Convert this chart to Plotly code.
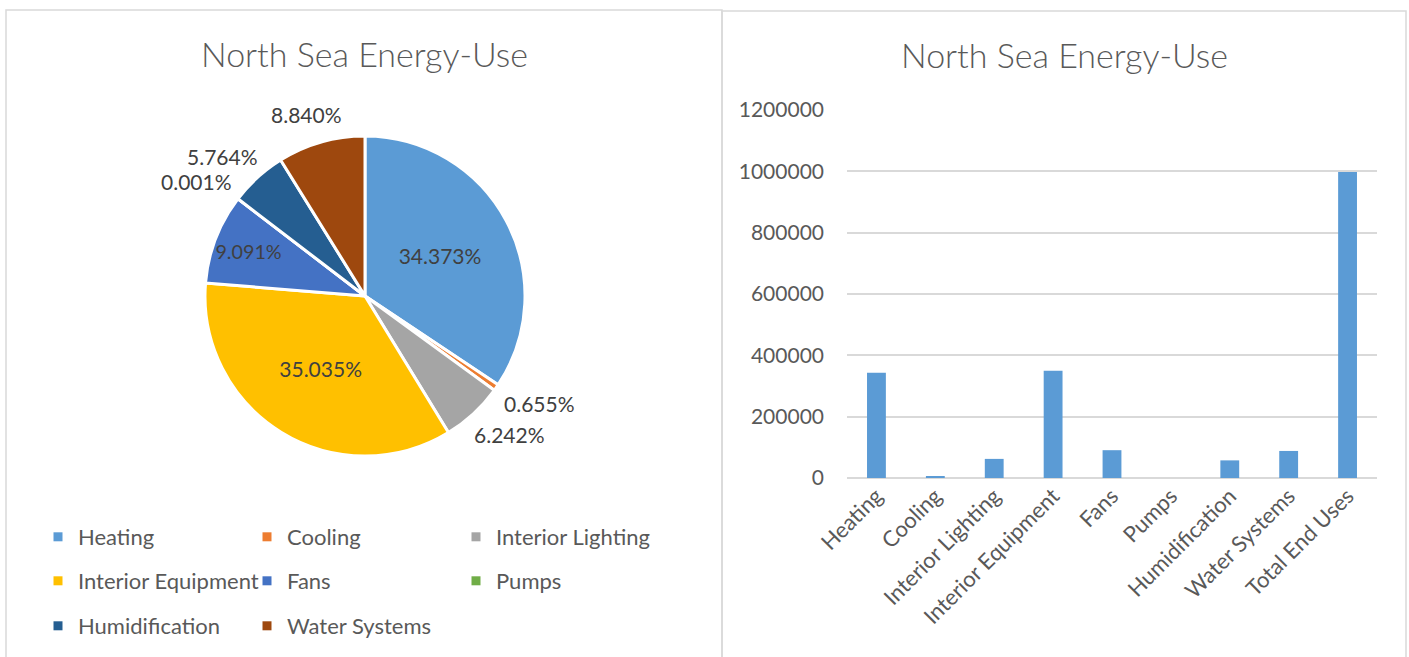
import math
import plotly.graph_objects as go

# ---- data ----
categories = ["Heating", "Cooling", "Interior Lighting", "Interior Equipment",
              "Fans", "Pumps", "Humidification", "Water Systems"]
share_pct = [34.373, 0.655, 6.242, 35.035, 9.091, 0.001, 5.764, 8.840]
slice_colors = ["#5B9BD5", "#ED7D31", "#A5A5A5", "#FFC000",
                "#4472C4", "#70AD47", "#255E91", "#9E480E"]

bar_categories = ["Heating", "Cooling", "Interior Lighting", "Interior Equipment",
                  "Fans", "Pumps", "Humidification", "Water Systems", "Total End Uses"]
bar_values = [343000, 6540, 62300, 349700, 90700, 10, 57500, 88200, 997950]

y_ticks = [0, 200000, 400000, 600000, 800000, 1000000, 1200000]

W, H = 1409, 657
FONT = "Lato"
TEXT = "#595959"
LABEL = "#404040"
LABEL_SIZE = 21


def px(x):
    return x / W


def py(y):
    return 1 - y / H


# pie geometry (pixels)
PIE_CX, PIE_CY, PIE_R = 365, 296, 160

# which labels sit inside their slice; the rest are placed outside the rim
inside = [True, False, False, True, True, False, False, False]

fig = go.Figure()

fig.add_trace(go.Pie(
    labels=categories,
    values=share_pct,
    sort=False,
    direction="clockwise",
    rotation=0,
    marker=dict(colors=slice_colors, line=dict(color="white", width=3)),
    texttemplate="%{value:.3f}%",
    textposition=["inside" if k else "none" for k in inside],
    insidetextorientation="horizontal",
    textfont=dict(family=FONT, size=LABEL_SIZE, color=LABEL),
    showlegend=False,
    hoverinfo="label+value",
    domain=dict(x=[px(PIE_CX - PIE_R), px(PIE_CX + PIE_R)],
                y=[py(PIE_CY + PIE_R), py(PIE_CY - PIE_R)]),
))

# outside labels: placed just beyond the rim along each slice's mid-angle
annotations = []
total_share = sum(share_pct)
cum = 0.0
for val, is_in in zip(share_pct, inside):
    mid = (cum + val / 2) / total_share * 2 * math.pi
    cum += val
    if is_in:
        continue
    txt = f"{val:.3f}%"
    s, c = math.sin(mid), math.cos(mid)
    hw = 0.29 * LABEL_SIZE * len(txt)
    hh = 0.6 * LABEL_SIZE
    gap = PIE_R + 16
    lx = PIE_CX + gap * s + hw * s
    ly = PIE_CY - gap * c - hh * c
    annotations.append(dict(
        text=txt, x=px(lx), y=py(ly), xref="paper", yref="paper",
        showarrow=False, xanchor="center", yanchor="middle",
        font=dict(family=FONT, size=LABEL_SIZE, color=LABEL)))

# bar chart
fig.add_trace(go.Bar(
    x=bar_categories,
    y=bar_values,
    marker=dict(color="#5B9BD5", line=dict(width=0)),
    showlegend=False,
    xaxis="x", yaxis="y",
))

# legend entries for the pie, split into three rows
legend_names = ["legend", "legend", "legend",
                "legend2", "legend2", "legend2",
                "legend3", "legend3"]
row_last = [False, False, True, False, False, True, False, True]
for name, color, lg, last in zip(categories, slice_colors, legend_names, row_last):
    fig.add_trace(go.Scatter(
        x=[None], y=[None], mode="markers", name=name,
        marker=dict(symbol="square", size=9, color=color),
        legend=lg, showlegend=True, hoverinfo="skip",
        legendwidth=230 if last else None,
    ))

legend_style = dict(
    orientation="h", xanchor="left", yanchor="middle",
    entrywidth=164, entrywidthmode="pixels", itemwidth=30,
    font=dict(family=FONT, size=22, color=TEXT),
    bgcolor="rgba(0,0,0,0)", traceorder="normal",
)

for title_x, title_y in [(364, 53), (1064, 55)]:
    annotations.append(dict(
        text="North Sea Energy-Use", x=px(title_x), y=py(title_y),
        xref="paper", yref="paper", showarrow=False,
        xanchor="center", yanchor="middle",
        font=dict(family=FONT, size=34, color=TEXT, weight=300)))

fig.update_layout(
    width=W, height=H,
    margin=dict(l=0, r=0, t=0, b=0, pad=0),
    paper_bgcolor="white", plot_bgcolor="white",
    font=dict(family=FONT, color=TEXT),
    bargap=0.68,
    legend=dict(x=px(38), y=py(537), **legend_style),
    legend2=dict(x=px(38), y=py(581), **legend_style),
    legend3=dict(x=px(38), y=py(626), **legend_style),
    xaxis=dict(
        domain=[px(847), px(1377)],
        tickangle=-45,
        tickfont=dict(family=FONT, size=22, color=TEXT),
        showgrid=False, showline=False, zeroline=False, ticks="",
        automargin=False, fixedrange=True,
    ),
    yaxis=dict(
        domain=[py(478), py(110)],
        range=[0, 1200000],
        tickvals=y_ticks,
        ticktext=[str(v) for v in y_ticks],
        tickfont=dict(family=FONT, size=21, color=TEXT),
        gridcolor="#D9D9D9", gridwidth=1.5,
        zeroline=True, zerolinecolor="#D9D9D9", zerolinewidth=1.5,
        showline=False, ticks="", ticklabelstandoff=22,
        automargin=False, fixedrange=True,
    ),
    annotations=annotations,
    shapes=[
        dict(type="rect", xref="paper", yref="paper",
             x0=px(6), x1=px(722), y0=py(10), y1=py(680),
             line=dict(color="#D9D9D9", width=1.5), layer="below"),
        dict(type="rect", xref="paper", yref="paper",
             x0=px(722), x1=px(1406), y0=py(11), y1=py(680),
             line=dict(color="#D9D9D9", width=1.5), layer="below"),
    ],
)

fig.write_html("out.html")
